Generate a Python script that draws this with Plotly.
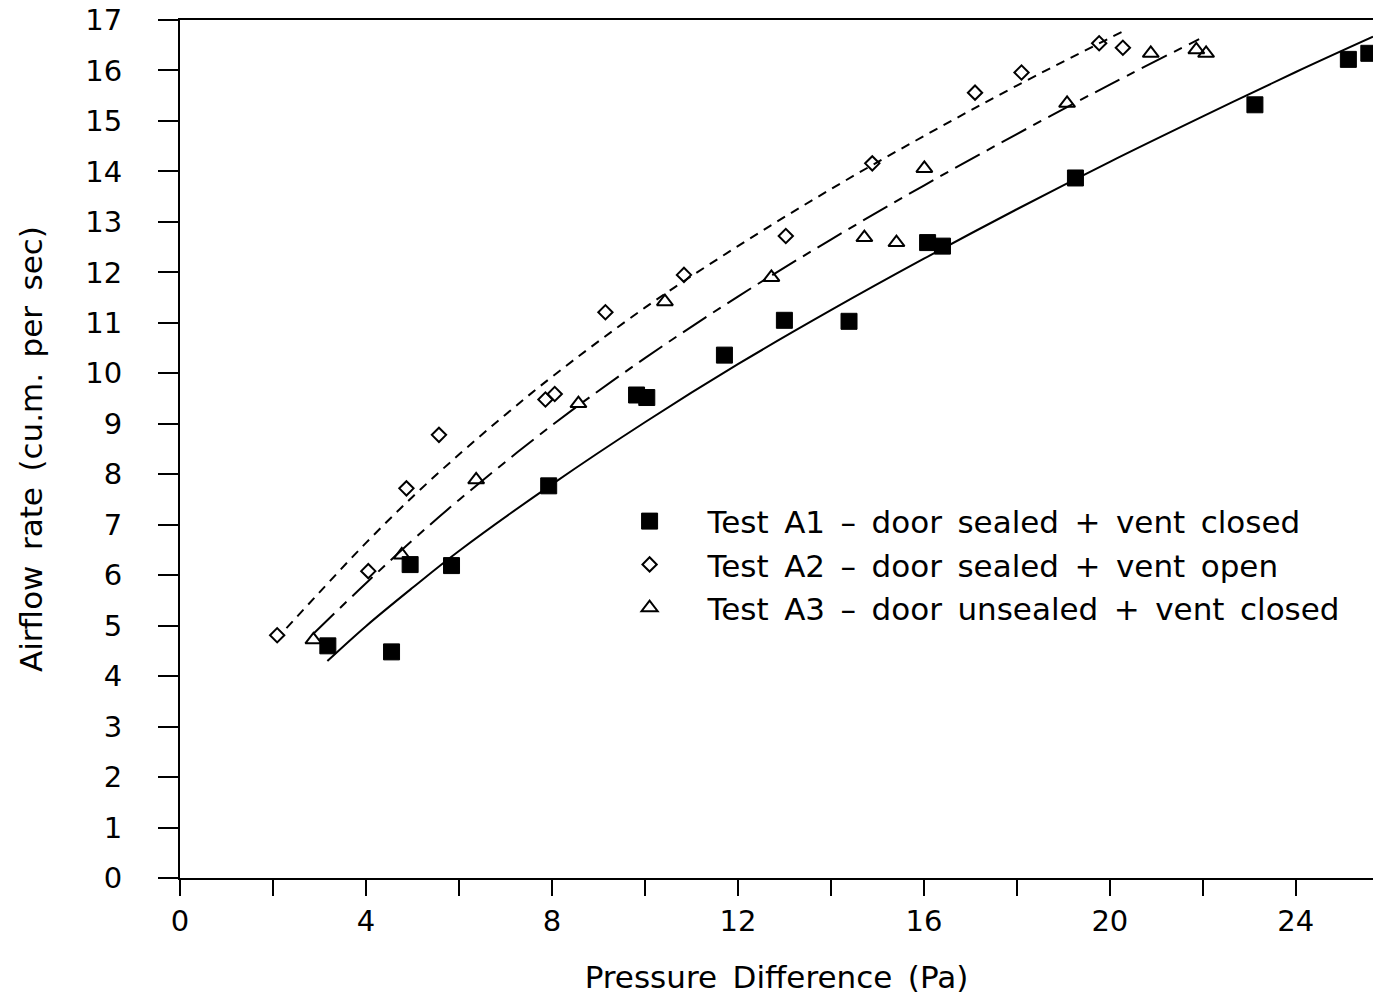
import plotly.graph_objects as go

a1_x = [3.18, 4.55, 4.95, 5.84, 7.93, 9.82, 10.04, 11.71, 13.00, 14.39, 16.08, 16.40, 19.26, 23.12, 25.13, 25.57]
a1_y = [4.60, 4.48, 6.21, 6.19, 7.77, 9.57, 9.52, 10.36, 11.05, 11.03, 12.59, 12.52, 13.87, 15.32, 16.22, 16.34]

a2_x = [2.09, 4.05, 4.87, 5.57, 7.86, 8.06, 9.15, 10.84, 13.03, 14.89, 17.10, 18.10, 19.77, 20.28]
a2_y = [4.81, 6.08, 7.72, 8.78, 9.48, 9.59, 11.21, 11.95, 12.72, 14.16, 15.56, 15.96, 16.54, 16.45]

a3_x = [2.87, 4.77, 6.37, 8.57, 10.43, 12.72, 14.72, 15.41, 16.01, 19.08, 20.88, 21.86, 22.07]
a3_y = [4.72, 6.40, 7.89, 9.40, 11.42, 11.90, 12.69, 12.59, 14.06, 15.35, 16.34, 16.41, 16.34]

# ---- fitted curves ----
fit1_x = [3.17, 4.0, 5.0, 6.0, 8.0, 10.0, 12.0, 14.0, 16.0, 18.0, 20.0, 22.0, 24.0, 25.66]
fit1_y = [4.30, 4.99, 5.75, 6.48, 7.80, 9.03, 10.18, 11.25, 12.27, 13.25, 14.19, 15.09, 15.97, 16.67]

fit2_x = [2.29, 3.0, 4.0, 5.0, 6.0, 7.0, 8.0, 10.0, 12.0, 14.0, 16.0, 18.0, 20.27]
fit2_y = [4.95, 5.66, 6.64, 7.55, 8.39, 9.18, 9.93, 11.30, 12.52, 13.65, 14.70, 15.70, 16.77]

fit3_x = [2.88, 4.0, 5.0, 6.0, 8.0, 10.0, 12.0, 14.0, 16.0, 18.0, 20.0, 21.92]
fit3_y = [4.85, 5.84, 6.69, 7.49, 8.97, 10.30, 11.52, 12.65, 13.72, 14.74, 15.72, 16.62]

SP = "\u2002"
names = [
    SP.join(["Test", "A1", "–", "door", "sealed", "+", "vent", "closed"]),
    SP.join(["Test", "A2", "–", "door", "sealed", "+", "vent", "open"]),
    SP.join(["Test", "A3", "–", "door", "unsealed", "+", "vent", "closed"]),
]
x_title = SP.join(["Pressure", "Difference", "(Pa)"])
y_title = SP.join(["Airflow", "rate", "(cu.m.", "per", "sec)"])

FONT = "DejaVu Sans"
fig = go.Figure()

# curves
fig.add_trace(go.Scatter(x=fit1_x, y=fit1_y, mode="lines", showlegend=False,
                         line=dict(color="black", width=2, shape="spline")))
fig.add_trace(go.Scatter(x=fit2_x, y=fit2_y, mode="lines", showlegend=False,
                         line=dict(color="black", width=2, shape="spline", dash="9px,7px")))
fig.add_trace(go.Scatter(x=fit3_x, y=fit3_y, mode="lines", showlegend=False,
                         line=dict(color="black", width=2, shape="spline", dash="28px,8px,9px,8px")))

# markers
fig.add_trace(go.Scatter(x=a1_x, y=a1_y, mode="markers", name=names[0],
                         marker=dict(symbol="square", size=16, color="black",
                                     line=dict(color="black", width=1))))
fig.add_trace(go.Scatter(x=a2_x, y=a2_y, mode="markers", name=names[1],
                         marker=dict(symbol="diamond-open", size=11, color="black",
                                     line=dict(color="black", width=2))))
fig.add_trace(go.Scatter(x=a3_x, y=a3_y, mode="markers", name=names[2],
                         marker=dict(symbol="triangle-up-open", size=14, color="black",
                                     line=dict(color="black", width=2))))

fig.update_layout(
    width=1373, height=997,
    margin=dict(l=180, r=0, t=20, b=119),
    paper_bgcolor="white", plot_bgcolor="white",
    font=dict(family=FONT, size=31, color="black"),
    showlegend=True,
    legend=dict(x=0.345, y=0.447, xanchor="left", yanchor="top",
                bgcolor="rgba(0,0,0,0)", borderwidth=0, itemwidth=106,
                font=dict(family=FONT, size=31, color="black")),
    xaxis=dict(range=[0, 25.66], tick0=0, dtick=4, ticks="outside", ticklen=16,
               tickwidth=2, tickcolor="black", showline=True, linewidth=2,
               linecolor="black", mirror=True, showgrid=False, zeroline=False,
               tickfont=dict(family=FONT, size=29),
               minor=dict(dtick=2, ticks="outside", ticklen=16, tickwidth=2,
                          tickcolor="black", showgrid=False),
               title=dict(text=x_title, standoff=30,
                          font=dict(family=FONT, size=31))),
    yaxis=dict(range=[0, 17], tick0=0, dtick=1, ticks="outside", ticklen=20,
               tickwidth=2, tickcolor="black", showline=True, linewidth=2,
               linecolor="black", mirror=False, showgrid=False, zeroline=False,
               tickfont=dict(family=FONT, size=29), ticklabelstandoff=30,
               title=dict(text=y_title, standoff=33,
                          font=dict(family=FONT, size=31))),
)

fig.write_html("out.html")
